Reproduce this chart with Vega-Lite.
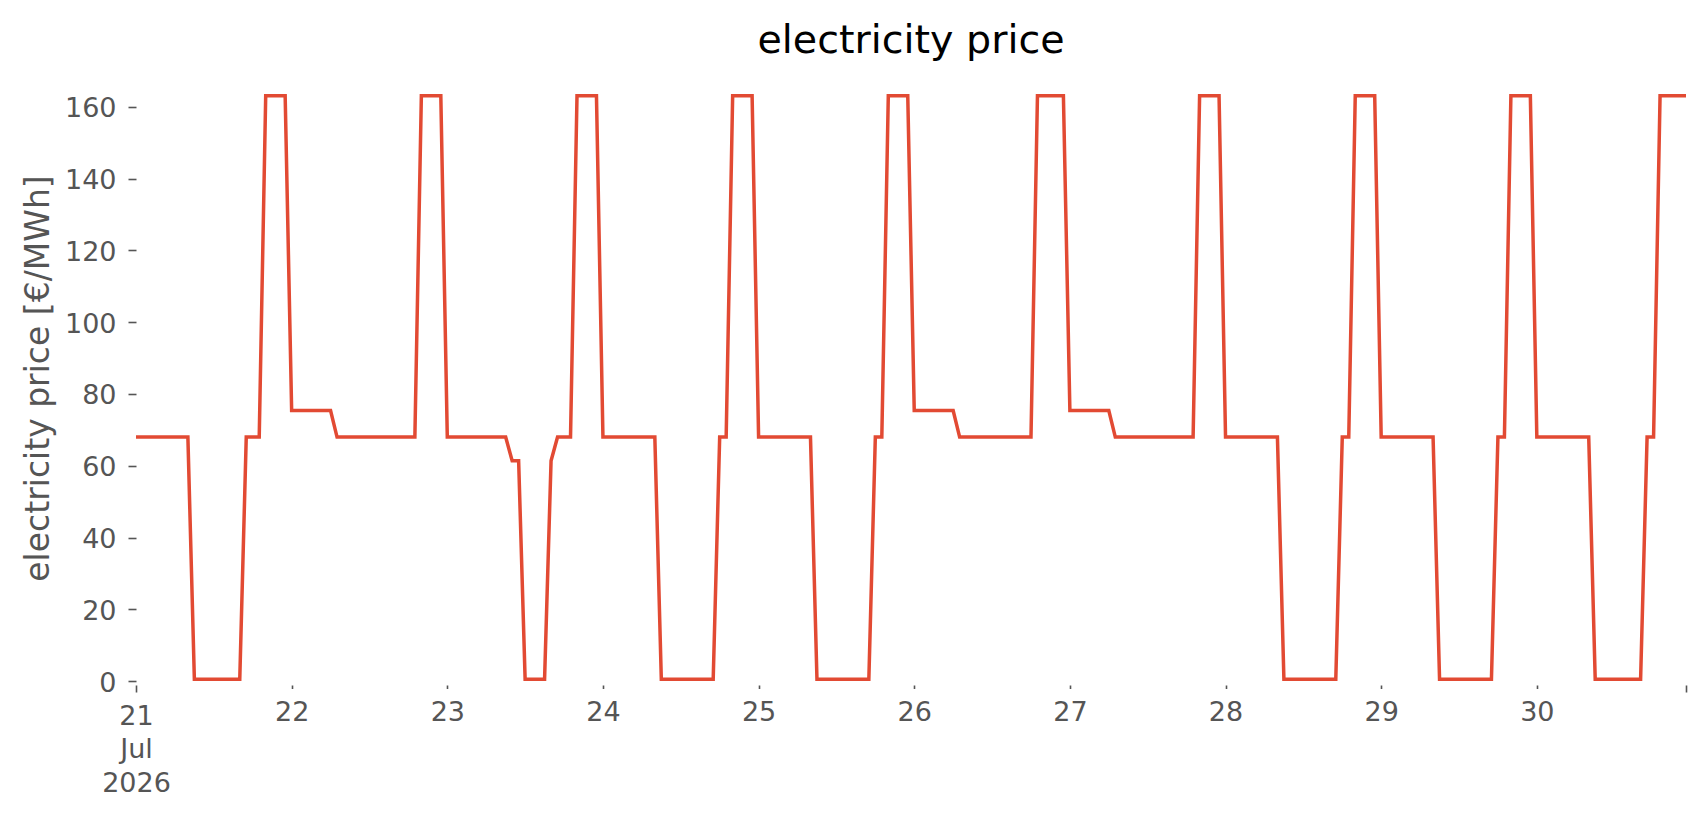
{
  "$schema": "https://vega.github.io/schema/vega-lite/v6.json",
  "width": 1550,
  "height": 596,
  "autosize": "none",
  "padding": {"left": 136, "top": 89, "right": 20, "bottom": 130},
  "background": "white",
  "title": {
    "text": "electricity price",
    "font": "DejaVu Sans",
    "fontSize": 39.6,
    "fontWeight": "normal",
    "color": "#000000",
    "anchor": "middle",
    "frame": "group",
    "baseline": "alphabetic",
    "offset": -4
  },
  "data": {
    "values": [
      {"t": "2026-07-21 00:00", "p": 68}, {"t": "2026-07-21 01:00", "p": 68}, {"t": "2026-07-21 02:00", "p": 68}, {"t": "2026-07-21 03:00", "p": 68},
      {"t": "2026-07-21 04:00", "p": 68}, {"t": "2026-07-21 05:00", "p": 68}, {"t": "2026-07-21 06:00", "p": 68}, {"t": "2026-07-21 07:00", "p": 68},
      {"t": "2026-07-21 08:00", "p": 68}, {"t": "2026-07-21 09:00", "p": 0.5}, {"t": "2026-07-21 10:00", "p": 0.5}, {"t": "2026-07-21 11:00", "p": 0.5},
      {"t": "2026-07-21 12:00", "p": 0.5}, {"t": "2026-07-21 13:00", "p": 0.5}, {"t": "2026-07-21 14:00", "p": 0.5}, {"t": "2026-07-21 15:00", "p": 0.5},
      {"t": "2026-07-21 16:00", "p": 0.5}, {"t": "2026-07-21 17:00", "p": 68}, {"t": "2026-07-21 18:00", "p": 68}, {"t": "2026-07-21 19:00", "p": 68},
      {"t": "2026-07-21 20:00", "p": 163.1}, {"t": "2026-07-21 21:00", "p": 163.1}, {"t": "2026-07-21 22:00", "p": 163.1}, {"t": "2026-07-21 23:00", "p": 163.1},

      {"t": "2026-07-22 00:00", "p": 75.4}, {"t": "2026-07-22 01:00", "p": 75.4}, {"t": "2026-07-22 02:00", "p": 75.4}, {"t": "2026-07-22 03:00", "p": 75.4},
      {"t": "2026-07-22 04:00", "p": 75.4}, {"t": "2026-07-22 05:00", "p": 75.4}, {"t": "2026-07-22 06:00", "p": 75.4}, {"t": "2026-07-22 07:00", "p": 68},
      {"t": "2026-07-22 08:00", "p": 68}, {"t": "2026-07-22 09:00", "p": 68}, {"t": "2026-07-22 10:00", "p": 68}, {"t": "2026-07-22 11:00", "p": 68},
      {"t": "2026-07-22 12:00", "p": 68}, {"t": "2026-07-22 13:00", "p": 68}, {"t": "2026-07-22 14:00", "p": 68}, {"t": "2026-07-22 15:00", "p": 68},
      {"t": "2026-07-22 16:00", "p": 68}, {"t": "2026-07-22 17:00", "p": 68}, {"t": "2026-07-22 18:00", "p": 68}, {"t": "2026-07-22 19:00", "p": 68},
      {"t": "2026-07-22 20:00", "p": 163.1}, {"t": "2026-07-22 21:00", "p": 163.1}, {"t": "2026-07-22 22:00", "p": 163.1}, {"t": "2026-07-22 23:00", "p": 163.1},

      {"t": "2026-07-23 00:00", "p": 68}, {"t": "2026-07-23 01:00", "p": 68}, {"t": "2026-07-23 02:00", "p": 68}, {"t": "2026-07-23 03:00", "p": 68},
      {"t": "2026-07-23 04:00", "p": 68}, {"t": "2026-07-23 05:00", "p": 68}, {"t": "2026-07-23 06:00", "p": 68}, {"t": "2026-07-23 07:00", "p": 68},
      {"t": "2026-07-23 08:00", "p": 68}, {"t": "2026-07-23 09:00", "p": 68}, {"t": "2026-07-23 10:00", "p": 61.4}, {"t": "2026-07-23 11:00", "p": 61.4},
      {"t": "2026-07-23 12:00", "p": 0.5}, {"t": "2026-07-23 13:00", "p": 0.5}, {"t": "2026-07-23 14:00", "p": 0.5}, {"t": "2026-07-23 15:00", "p": 0.5},
      {"t": "2026-07-23 16:00", "p": 61.4}, {"t": "2026-07-23 17:00", "p": 68}, {"t": "2026-07-23 18:00", "p": 68}, {"t": "2026-07-23 19:00", "p": 68},
      {"t": "2026-07-23 20:00", "p": 163.1}, {"t": "2026-07-23 21:00", "p": 163.1}, {"t": "2026-07-23 22:00", "p": 163.1}, {"t": "2026-07-23 23:00", "p": 163.1},

      {"t": "2026-07-24 00:00", "p": 68}, {"t": "2026-07-24 01:00", "p": 68}, {"t": "2026-07-24 02:00", "p": 68}, {"t": "2026-07-24 03:00", "p": 68},
      {"t": "2026-07-24 04:00", "p": 68}, {"t": "2026-07-24 05:00", "p": 68}, {"t": "2026-07-24 06:00", "p": 68}, {"t": "2026-07-24 07:00", "p": 68},
      {"t": "2026-07-24 08:00", "p": 68}, {"t": "2026-07-24 09:00", "p": 0.5}, {"t": "2026-07-24 10:00", "p": 0.5}, {"t": "2026-07-24 11:00", "p": 0.5},
      {"t": "2026-07-24 12:00", "p": 0.5}, {"t": "2026-07-24 13:00", "p": 0.5}, {"t": "2026-07-24 14:00", "p": 0.5}, {"t": "2026-07-24 15:00", "p": 0.5},
      {"t": "2026-07-24 16:00", "p": 0.5}, {"t": "2026-07-24 17:00", "p": 0.5}, {"t": "2026-07-24 18:00", "p": 68}, {"t": "2026-07-24 19:00", "p": 68},
      {"t": "2026-07-24 20:00", "p": 163.1}, {"t": "2026-07-24 21:00", "p": 163.1}, {"t": "2026-07-24 22:00", "p": 163.1}, {"t": "2026-07-24 23:00", "p": 163.1},

      {"t": "2026-07-25 00:00", "p": 68}, {"t": "2026-07-25 01:00", "p": 68}, {"t": "2026-07-25 02:00", "p": 68}, {"t": "2026-07-25 03:00", "p": 68},
      {"t": "2026-07-25 04:00", "p": 68}, {"t": "2026-07-25 05:00", "p": 68}, {"t": "2026-07-25 06:00", "p": 68}, {"t": "2026-07-25 07:00", "p": 68},
      {"t": "2026-07-25 08:00", "p": 68}, {"t": "2026-07-25 09:00", "p": 0.5}, {"t": "2026-07-25 10:00", "p": 0.5}, {"t": "2026-07-25 11:00", "p": 0.5},
      {"t": "2026-07-25 12:00", "p": 0.5}, {"t": "2026-07-25 13:00", "p": 0.5}, {"t": "2026-07-25 14:00", "p": 0.5}, {"t": "2026-07-25 15:00", "p": 0.5},
      {"t": "2026-07-25 16:00", "p": 0.5}, {"t": "2026-07-25 17:00", "p": 0.5}, {"t": "2026-07-25 18:00", "p": 68}, {"t": "2026-07-25 19:00", "p": 68},
      {"t": "2026-07-25 20:00", "p": 163.1}, {"t": "2026-07-25 21:00", "p": 163.1}, {"t": "2026-07-25 22:00", "p": 163.1}, {"t": "2026-07-25 23:00", "p": 163.1},

      {"t": "2026-07-26 00:00", "p": 75.4}, {"t": "2026-07-26 01:00", "p": 75.4}, {"t": "2026-07-26 02:00", "p": 75.4}, {"t": "2026-07-26 03:00", "p": 75.4},
      {"t": "2026-07-26 04:00", "p": 75.4}, {"t": "2026-07-26 05:00", "p": 75.4}, {"t": "2026-07-26 06:00", "p": 75.4}, {"t": "2026-07-26 07:00", "p": 68},
      {"t": "2026-07-26 08:00", "p": 68}, {"t": "2026-07-26 09:00", "p": 68}, {"t": "2026-07-26 10:00", "p": 68}, {"t": "2026-07-26 11:00", "p": 68},
      {"t": "2026-07-26 12:00", "p": 68}, {"t": "2026-07-26 13:00", "p": 68}, {"t": "2026-07-26 14:00", "p": 68}, {"t": "2026-07-26 15:00", "p": 68},
      {"t": "2026-07-26 16:00", "p": 68}, {"t": "2026-07-26 17:00", "p": 68}, {"t": "2026-07-26 18:00", "p": 68}, {"t": "2026-07-26 19:00", "p": 163.1},
      {"t": "2026-07-26 20:00", "p": 163.1}, {"t": "2026-07-26 21:00", "p": 163.1}, {"t": "2026-07-26 22:00", "p": 163.1}, {"t": "2026-07-26 23:00", "p": 163.1},

      {"t": "2026-07-27 00:00", "p": 75.4}, {"t": "2026-07-27 01:00", "p": 75.4}, {"t": "2026-07-27 02:00", "p": 75.4}, {"t": "2026-07-27 03:00", "p": 75.4},
      {"t": "2026-07-27 04:00", "p": 75.4}, {"t": "2026-07-27 05:00", "p": 75.4}, {"t": "2026-07-27 06:00", "p": 75.4}, {"t": "2026-07-27 07:00", "p": 68},
      {"t": "2026-07-27 08:00", "p": 68}, {"t": "2026-07-27 09:00", "p": 68}, {"t": "2026-07-27 10:00", "p": 68}, {"t": "2026-07-27 11:00", "p": 68},
      {"t": "2026-07-27 12:00", "p": 68}, {"t": "2026-07-27 13:00", "p": 68}, {"t": "2026-07-27 14:00", "p": 68}, {"t": "2026-07-27 15:00", "p": 68},
      {"t": "2026-07-27 16:00", "p": 68}, {"t": "2026-07-27 17:00", "p": 68}, {"t": "2026-07-27 18:00", "p": 68}, {"t": "2026-07-27 19:00", "p": 68},
      {"t": "2026-07-27 20:00", "p": 163.1}, {"t": "2026-07-27 21:00", "p": 163.1}, {"t": "2026-07-27 22:00", "p": 163.1}, {"t": "2026-07-27 23:00", "p": 163.1},

      {"t": "2026-07-28 00:00", "p": 68}, {"t": "2026-07-28 01:00", "p": 68}, {"t": "2026-07-28 02:00", "p": 68}, {"t": "2026-07-28 03:00", "p": 68},
      {"t": "2026-07-28 04:00", "p": 68}, {"t": "2026-07-28 05:00", "p": 68}, {"t": "2026-07-28 06:00", "p": 68}, {"t": "2026-07-28 07:00", "p": 68},
      {"t": "2026-07-28 08:00", "p": 68}, {"t": "2026-07-28 09:00", "p": 0.5}, {"t": "2026-07-28 10:00", "p": 0.5}, {"t": "2026-07-28 11:00", "p": 0.5},
      {"t": "2026-07-28 12:00", "p": 0.5}, {"t": "2026-07-28 13:00", "p": 0.5}, {"t": "2026-07-28 14:00", "p": 0.5}, {"t": "2026-07-28 15:00", "p": 0.5},
      {"t": "2026-07-28 16:00", "p": 0.5}, {"t": "2026-07-28 17:00", "p": 0.5}, {"t": "2026-07-28 18:00", "p": 68}, {"t": "2026-07-28 19:00", "p": 68},
      {"t": "2026-07-28 20:00", "p": 163.1}, {"t": "2026-07-28 21:00", "p": 163.1}, {"t": "2026-07-28 22:00", "p": 163.1}, {"t": "2026-07-28 23:00", "p": 163.1},

      {"t": "2026-07-29 00:00", "p": 68}, {"t": "2026-07-29 01:00", "p": 68}, {"t": "2026-07-29 02:00", "p": 68}, {"t": "2026-07-29 03:00", "p": 68},
      {"t": "2026-07-29 04:00", "p": 68}, {"t": "2026-07-29 05:00", "p": 68}, {"t": "2026-07-29 06:00", "p": 68}, {"t": "2026-07-29 07:00", "p": 68},
      {"t": "2026-07-29 08:00", "p": 68}, {"t": "2026-07-29 09:00", "p": 0.5}, {"t": "2026-07-29 10:00", "p": 0.5}, {"t": "2026-07-29 11:00", "p": 0.5},
      {"t": "2026-07-29 12:00", "p": 0.5}, {"t": "2026-07-29 13:00", "p": 0.5}, {"t": "2026-07-29 14:00", "p": 0.5}, {"t": "2026-07-29 15:00", "p": 0.5},
      {"t": "2026-07-29 16:00", "p": 0.5}, {"t": "2026-07-29 17:00", "p": 0.5}, {"t": "2026-07-29 18:00", "p": 68}, {"t": "2026-07-29 19:00", "p": 68},
      {"t": "2026-07-29 20:00", "p": 163.1}, {"t": "2026-07-29 21:00", "p": 163.1}, {"t": "2026-07-29 22:00", "p": 163.1}, {"t": "2026-07-29 23:00", "p": 163.1},

      {"t": "2026-07-30 00:00", "p": 68}, {"t": "2026-07-30 01:00", "p": 68}, {"t": "2026-07-30 02:00", "p": 68}, {"t": "2026-07-30 03:00", "p": 68},
      {"t": "2026-07-30 04:00", "p": 68}, {"t": "2026-07-30 05:00", "p": 68}, {"t": "2026-07-30 06:00", "p": 68}, {"t": "2026-07-30 07:00", "p": 68},
      {"t": "2026-07-30 08:00", "p": 68}, {"t": "2026-07-30 09:00", "p": 0.5}, {"t": "2026-07-30 10:00", "p": 0.5}, {"t": "2026-07-30 11:00", "p": 0.5},
      {"t": "2026-07-30 12:00", "p": 0.5}, {"t": "2026-07-30 13:00", "p": 0.5}, {"t": "2026-07-30 14:00", "p": 0.5}, {"t": "2026-07-30 15:00", "p": 0.5},
      {"t": "2026-07-30 16:00", "p": 0.5}, {"t": "2026-07-30 17:00", "p": 68}, {"t": "2026-07-30 18:00", "p": 68}, {"t": "2026-07-30 19:00", "p": 163.1},
      {"t": "2026-07-30 20:00", "p": 163.1}, {"t": "2026-07-30 21:00", "p": 163.1}, {"t": "2026-07-30 22:00", "p": 163.1}, {"t": "2026-07-30 23:00", "p": 163.1}
    ]
  },
  "mark": {"type": "line", "color": "#E24A33", "strokeWidth": 3.5, "clip": false},
  "encoding": {
    "x": {
      "field": "t",
      "type": "temporal",
      "title": null,
      "scale": {
        "domain": [
          {"year": 2026, "month": 7, "date": 21, "hours": 0},
          {"year": 2026, "month": 7, "date": 30, "hours": 23}
        ],
        "nice": false,
        "padding": 0
      },
      "axis": {
        "values": [
          {"year": 2026, "month": 7, "date": 21},
          {"year": 2026, "month": 7, "date": 22},
          {"year": 2026, "month": 7, "date": 23},
          {"year": 2026, "month": 7, "date": 24},
          {"year": 2026, "month": 7, "date": 25},
          {"year": 2026, "month": 7, "date": 26},
          {"year": 2026, "month": 7, "date": 27},
          {"year": 2026, "month": 7, "date": 28},
          {"year": 2026, "month": 7, "date": 29},
          {"year": 2026, "month": 7, "date": 30},
          {"year": 2026, "month": 7, "date": 30, "hours": 23}
        ],
        "labelExpr": "hours(datum.value) == 23 ? '' : (date(datum.value) == 21 ? ['21', 'Jul', '2026'] : timeFormat(datum.value, '%d'))",
        "domain": false,
        "grid": false,
        "tickColor": "#555555",
        "tickWidth": 1.6,
        "tickSize": {"condition": {"test": "date(datum.value) == 21 || hours(datum.value) == 23", "value": 7}, "value": 3.5},
        "labelFont": "DejaVu Sans",
        "labelFontSize": 27,
        "labelColor": "#555555",
        "labelPadding": 11,
        "labelLineHeight": 33.5,
        "labelFlush": false,
        "labelOverlap": false
      }
    },
    "y": {
      "field": "p",
      "type": "quantitative",
      "title": "electricity price [€/MWh]",
      "scale": {"domain": [-1.1, 165], "nice": false, "zero": false},
      "axis": {
        "values": [0, 20, 40, 60, 80, 100, 120, 140, 160],
        "domain": false,
        "grid": false,
        "tickColor": "#555555",
        "tickWidth": 1.6,
        "tickSize": 8,
        "labelFont": "DejaVu Sans",
        "labelFontSize": 27,
        "labelColor": "#555555",
        "labelPadding": 12,
        "labelOffset": 2,
        "titleFont": "DejaVu Sans",
        "titleFontSize": 33,
        "titleFontWeight": "normal",
        "titleColor": "#555555",
        "titleAngle": -90,
        "titleBaseline": "alphabetic",
        "titleAlign": "center",
        "titleX": -88,
        "titleY": 289
      }
    }
  },
  "config": {"view": {"stroke": null}}
}
